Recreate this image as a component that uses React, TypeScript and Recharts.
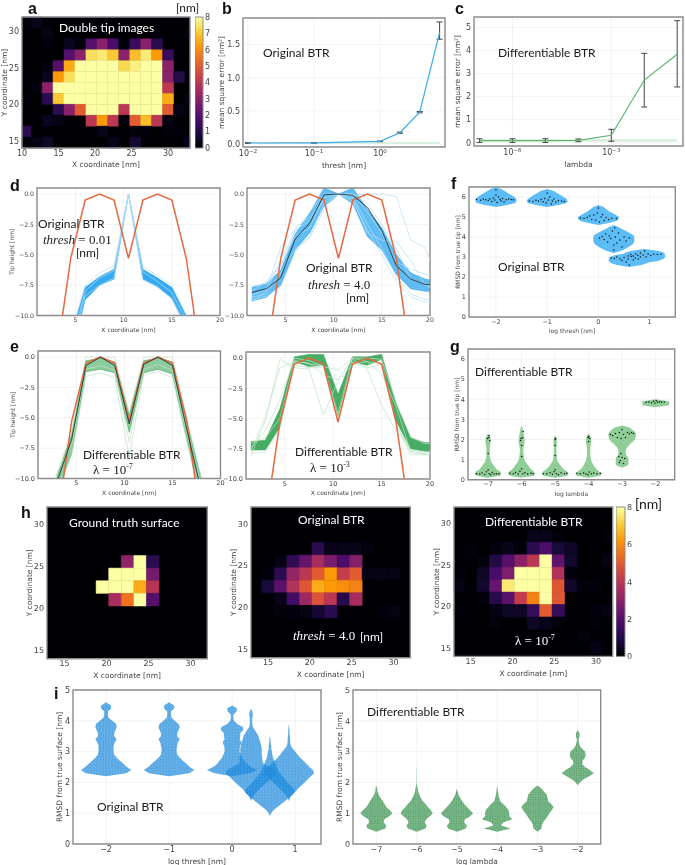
import type { ReactNode } from "react";
import {
  Area,
  CartesianGrid,
  ComposedChart,
  ErrorBar,
  Line,
  ReferenceArea,
  Scatter,
  XAxis,
  YAxis,
} from "recharts";

const INK = "#444";
const FRAME = "#8c8c8c";
const GRID = "#eeeeee";
const ORANGE = "#e5683f";
const BLUE = "#2ba5ef";
const BLUE_THIN = "#b4def7";
const GREEN = "#3fa85c";
const GREEN_THIN = "#bfe3c6";
const SANS = "'DejaVu Sans', sans-serif";
const NOTE = "Lato, 'Open Sans', sans-serif";
const SERIF = "'Liberation Serif', serif";

const INFERNO = ["#000004", "#1b0c41", "#4a0c6b", "#781c6d", "#a52c60", "#cf4446", "#ed6925", "#fb9a06", "#f7d03c", "#fcffa4"];

/* a: double tip image, rows from the top */
const aGrid = [
  [0.1, 0.3, 0, 0, 0, 0, 0, 0, 0, 0, 0, 0, 0, 0, 0, 0],
  [0, 0, 0.2, 0, 0, 0, 0, 0, 0, 0, 0, 0, 0.1, 0, 0, 0.2],
  [0, 0, 0.1, 0, 0.4, 0.1, 2, 3, 1.8, 0.1, 1.5, 3, 1.2, 0, 0, 0],
  [0, 0, 0, 0, 2, 3, 7.4, 7.6, 7, 3, 6.8, 7.6, 6.2, 1.5, 0, 0],
  [0, 0, 0.1, 2, 6.5, 8, 8, 8, 8, 7.3, 7.7, 8, 8, 3, 0, 0],
  [0, 0, 0.4, 6.2, 7.4, 8, 8, 8, 8, 8, 8, 8, 8, 3, 1, 0],
  [0, 0.1, 3, 8, 8, 8, 8, 8, 8, 8, 8, 8, 8, 4, 0, 0],
  [0.1, 0, 1.2, 7, 8, 8, 8, 8, 8, 8, 8, 8, 8, 6.5, 0, 0.2],
  [0, 0, 0, 1.2, 3, 5, 8, 8, 8, 4, 8, 8, 8, 5, 0.2, 0],
  [0, 0, 0.4, 0.2, 0, 0, 4, 6.2, 4, 0.1, 5, 6.8, 4, 0.2, 0, 0],
  [1.2, 0, 0, 0, 0, 0, 0, 0.3, 0, 0, 0.1, 0.1, 0, 0.1, 0.1, 0],
  [0.1, 0.2, 0.5, 0, 0, 0, 0, 0, 0.3, 0, 0.7, 0, 0, 0, 0, 0.4],
];

/* h: surfaces, rows from the top */
const hTruth = [
  [0, 0, 0, 0, 0, 0, 0, 0, 0, 0, 0, 0, 0],
  [0, 0, 0, 0, 0, 0, 0, 0, 0, 0, 0, 0, 0],
  [0, 0, 0, 0, 0, 0, 0, 0, 0, 0, 0, 0, 0],
  [0, 0, 0, 0, 0, 0, 0, 0, 0, 0, 0, 0, 0],
  [0, 0, 0, 0, 0, 0, 3.1, 8, 1.2, 0, 0, 0, 0],
  [0, 0, 0, 0, 0, 8, 8, 8, 2.6, 0, 0, 0, 0],
  [0, 0, 0, 0, 8, 8, 8, 6.5, 3.9, 0, 0, 0, 0],
  [0, 0, 0, 0, 0, 3.6, 5.5, 8, 2, 0, 0, 0, 0],
  [0, 0, 0, 0, 0, 0, 0, 0, 0, 0, 0, 0, 0],
  [0, 0, 0, 0, 0, 0, 0, 0, 0, 0, 0, 0, 0],
  [0, 0, 0, 0, 0, 0, 0, 0, 0, 0, 0, 0, 0],
  [0, 0, 0, 0, 0, 0, 0, 0, 0, 0, 0, 0, 0],
  [0, 0, 0, 0, 0, 0, 0, 0, 0, 0, 0, 0, 0],
];
const hOriginal = [
  [0, 0, 0, 0, 0, 0, 0, 0, 0, 0, 0, 0, 0],
  [0, 0, 0, 0, 0, 0, 0, 0, 0, 0, 0, 0, 0],
  [0, 0, 0, 0, 0, 0, 0, 0, 0, 0, 0, 0, 0],
  [0, 0, 0, 0, 0, 1.2, 0.3, 0.3, 0.3, 0.1, 0, 0, 0],
  [0, 0, 0.2, 1.3, 2.3, 3.6, 2.7, 1.8, 2.9, 0, 0, 0, 0],
  [0, 0.1, 1.2, 3.2, 4, 5, 6.2, 4.2, 5, 0.2, 0.2, 0.2, 0],
  [0, 0.8, 2.1, 3.8, 4.9, 6.5, 6.2, 6, 5.8, 0, 0, 0, 0],
  [0, 0, 0.3, 1.6, 3.4, 4.8, 4, 1.1, 3.6, 0, 0, 0, 0],
  [0, 0, 0.1, 0.1, 0.2, 0.7, 1.2, 0, 0, 0, 0.1, 0.2, 0],
  [0, 0, 0, 0, 0, 0, 0, 0, 0, 0, 0, 0, 0],
  [0, 0, 0, 0, 0, 0, 0, 0, 0, 0, 0, 0, 0],
  [0, 0, 0, 0, 0, 0, 0, 0, 0, 0, 0, 0, 0],
  [0, 0, 0, 0, 0, 0, 0, 0, 0, 0, 0, 0, 0],
];
const hDiff = [
  [0, 0, 0, 0, 0, 0, 0, 0, 0, 0, 0, 0, 0],
  [0, 0, 0, 0, 0, 0, 0, 0, 0, 0, 0, 0, 0],
  [0, 0, 0, 0, 0, 0, 0.3, 0.3, 0.1, 0, 0, 0, 0.1],
  [0, 0.1, 0, 0.1, 0.3, 0.1, 1.2, 1.9, 0.8, 0.5, 0, 0, 0],
  [0, 0, 0.1, 1, 2, 3, 4, 8, 2.2, 0.6, 0, 0, 0.2],
  [0.1, 0, 0.5, 1.7, 2.8, 8, 8, 8, 3.8, 0.1, 0, 0, 0],
  [0.2, 0, 0.6, 2.3, 7.6, 8, 8, 8, 4.9, 0.6, 0.1, 0.1, 0],
  [0, 0, 0.1, 1.1, 2.1, 4.2, 5.8, 8, 4.9, 0, 0, 0, 0],
  [0.1, 0, 0, 0.2, 0.5, 0.5, 1.4, 5, 1.4, 0, 0, 0.1, 0.2],
  [0, 0, 0, 0.1, 0, 0, 0.5, 0.3, 0.1, 0, 0, 0.1, 0],
  [0, 0, 0, 0, 0, 0, 0, 0, 0, 0, 0.1, 0, 0],
  [0, 0, 0, 0, 0, 0, 0, 0, 0, 0, 0, 0.2, 0],
  [0, 0, 0, 0, 0, 0, 0, 0, 0, 0, 0, 0, 0],
];

/* b, c: error curves */
const bThresh = [0.01, 0.1, 1, 2, 4, 8];
const bError = [0.015, 0.017, 0.04, 0.17, 0.48, 1.68];
const bLower = [0.01, 0.012, 0.035, 0.16, 0.47, 1.58];
const bUpper = [0.02, 0.022, 0.045, 0.18, 0.49, 1.84];
const cLambda = [1e-7, 1e-6, 1e-5, 1e-4, 1e-3, 1e-2, 1e-1];
const cError = [0.09, 0.09, 0.09, 0.1, 0.32, 2.72, 3.84];
const cLower = [0.01, 0.01, 0.01, 0.04, 0.06, 1.55, 2.42];
const cUpper = [0.17, 0.17, 0.17, 0.16, 0.58, 3.88, 5.3];
const cBaseline = [0.1, 0.1, 0.1, 0.1, 0.1, 0.1, 0.1];

/* d, e: tip profiles */
const tipX = [1.5, 3, 4.5, 6, 7.5, 9, 10.5, 12, 13.5, 15, 16.5, 18, 19.5, 21];
const trueTip = [-18, -13.6, -5.3, -0.5, 0, -0.5, -5.3, -0.5, 0, -0.5, -5.3, -13.6, -18, -18];

const d1Low = [-22, -18, -13.5, -8.7, -7.5, -7, 0, -7, -7.6, -8.6, -11, -14.5, -20, -22];
const d1High = [-20, -16, -11.8, -7.7, -6.8, -6.2, 0, -6.2, -6.9, -7.7, -10, -13, -18, -20];
const d1Thin = [
  [-21, -17, -13, -8.4, -7.5, -6.9, 0, -7.1, -7.7, -8.6, -10.8, -14.2, -19, -21],
  [-20, -16, -11.5, -7.5, -6.5, -5.9, 0, -6, -6.7, -7.5, -10, -13, -18, -20],
  [-21, -17, -12.5, -8, -6.9, -6.3, 0, -6.4, -7.2, -8.1, -10.4, -13.6, -19, -21],
];

const d2Low = [-8.8, -8.5, -7.5, -4.6, -3.2, -1, 0, -0.8, -3.5, -4.6, -6.6, -7.8, -8, -8];
const d2High = [-7.7, -7.4, -6.3, -3.3, -1.6, 0.5, 0, 0.5, -1.3, -2.8, -5, -6.5, -7, -7.2];
const d2Mean = [-8.1, -7.8, -6.9, -3.7, -2.4, -0.05, 0, -0.1, -1.1, -3, -5.9, -7, -7.45, -7.5];
const d2Thin = [
  [-8.9, -8, -5.5, -3, -1.5, 0, 0, 0, -0.8, -2.5, -4.5, -7, -7.5, -7.7],
  [-8.5, -8.2, -6.5, -4.5, -3.6, -1.3, 0, -0.2, -2.5, -4.5, -6.8, -8.2, -8.7, -8.8],
  [-8, -7.2, -5.8, -3.5, -2.8, -0.3, 0, -0.1, 0, 0, -0.2, -3.8, -4.4, -7.5],
  [-8.3, -7.9, -4.4, -2.8, -1.9, -0.6, 0, -0.4, -3.2, -3.8, -3.9, -5.5, -7.5, -8],
  [-8.7, -8.4, -7.6, -4.8, -3.5, -0.8, 0, -0.6, -3, -5, -7.2, -8.5, -8.9, -8.9],
  [-7.6, -7.3, -6, -3, -2.2, 0, 0, 0, -1.5, -3.2, -5.6, -6.2, -6.6, -6.8],
];

const e1Low = [-16, -11, -8, -1.2, -1, -1.3, -6.2, -1.3, -1, -1.4, -6.8, -12, -17, -18];
const e1High = [-14, -9.8, -6.4, -0.3, -0.1, -0.4, -4.8, -0.3, -0.1, -0.4, -5.3, -10, -14, -16];
const e1Mean = [-15, -10.2, -6.8, -0.7, 0, -0.7, -5.5, -0.6, 0, -0.7, -6, -11, -16, -17];
const e1Thin = [
  [-13, -9.6, -6, 0, 0, 0, -4.5, 0, 0, 0, -5, -10, -13, -15],
  [-16, -11, -8, -1.6, -1.3, -1.7, -8.2, -1.5, -1.2, -1.7, -7, -11.5, -16, -17],
  [-14, -9.5, -7.2, -1, -0.7, -1.1, -7, -1, -0.6, -1.1, -6.4, -10.6, -15, -16],
];

const e2Low = [-7.6, -7.6, -5.7, -0.3, -0.7, -0.6, -4.8, -0.3, -0.6, -0.1, -5.2, -7.5, -7.7, -7.7];
const e2High = [-6.9, -6.8, -4.2, 0.1, 0.3, 0.3, -3, 0.1, 0.1, 0.3, -3.8, -6.6, -7, -7];
const e2Thin = [
  [-8.1, -5.2, -0.1, -0.8, -0.9, -4.7, -1.9, -0.5, -0.3, -0.6, -5.5, -8, -8, -7.9],
  [-7.7, -4.9, -0.8, -0.3, -0.4, -1.4, -1.8, -0.1, -0.9, -3.9, -6, -7.6, -7.8, -7.6],
  [-7.4, -6, -3.5, 0, -0.2, -0.7, -1, 0, -0.3, -1.3, -4, -7.7, -7.9, -7.5],
  [-7, -6.6, -5, -0.2, -0.5, -0.6, -4.6, 0, 0, -0.1, -3.6, -6.5, -7.1, -6.9],
  [-7.9, -7.8, -5.8, -0.6, -0.8, -0.8, -5, -0.4, -0.8, -0.5, -5.3, -7.8, -8, -7.8],
];

/* f, g, i: violins; half widths per 0.1 step of RMSD, from the start level up */
const fCenters = [-2, -1, 0, 0.3, 0.6, 0.9];
const fStarts = [5.6, 5.6, 4.7, 3.3, 2.6, 2.8];
const fWidths = [
  [0.22, 0.38, 0.4, 0.4, 0.36, 0.3, 0.23, 0.17, 0.1],
  [0.22, 0.38, 0.4, 0.38, 0.32, 0.26, 0.19, 0.13],
  [0.2, 0.35, 0.4, 0.4, 0.34, 0.27, 0.2, 0.15, 0.1],
  [0.14, 0.22, 0.29, 0.35, 0.39, 0.4, 0.4, 0.4, 0.38, 0.31, 0.24, 0.16, 0.09],
  [0.24, 0.36, 0.4, 0.4, 0.38, 0.27],
  [0.26, 0.37, 0.4, 0.4, 0.39, 0.28],
];
const fDots = [
  [-2.38, 5.87], [-2.3, 5.84], [-2.25, 5.9], [-2.2, 5.86], [-2.15, 5.83], [-2.12, 5.9], [-2.08, 5.78], [-2.05, 5.95], [-2.02, 5.85], [-2, 6.1], [-1.98, 5.72], [-1.95, 6], [-1.92, 5.88], [-1.9, 5.8], [-1.87, 5.93], [-1.84, 5.75], [-1.8, 5.86], [-1.75, 5.9], [-1.7, 5.88], [-1.66, 5.86], [-2, 6.35],
  [-1.35, 5.8], [-1.28, 5.78], [-1.22, 5.84], [-1.17, 5.8], [-1.12, 5.88], [-1.08, 5.76], [-1.05, 5.92], [-1.02, 5.7], [-1, 6.2], [-0.98, 5.85], [-0.95, 6], [-0.92, 5.65], [-0.9, 5.8], [-0.87, 5.9], [-0.83, 5.75], [-0.78, 5.83], [-0.72, 5.8], [-0.67, 5.78],
  [-0.35, 4.95], [-0.28, 4.92], [-0.22, 4.98], [-0.17, 5.05], [-0.13, 4.88], [-0.09, 5.1], [-0.05, 4.85], [-0.02, 5.2], [0, 5.45], [0.02, 4.75], [0.05, 5], [0.08, 5.12], [0.11, 4.82], [0.15, 4.98], [0.2, 4.88], [0.26, 4.94], [0.35, 4.92],
  [0.02, 3.95], [0.07, 4.02], [0.11, 3.88], [0.14, 4.15], [0.18, 3.75], [0.21, 4.05], [0.24, 3.92], [0.27, 4.3], [0.3, 3.6], [0.33, 4], [0.36, 3.7], [0.39, 4.2], [0.42, 3.85], [0.46, 3.5], [0.5, 4], [0.54, 3.8], [0.6, 3.95], [0.3, 3.35], [0.32, 4.45],
  [0.25, 2.95], [0.31, 2.93], [0.36, 3], [0.42, 2.9], [0.46, 2.82], [0.5, 2.98], [0.54, 2.75], [0.58, 2.9], [0.6, 2.6], [0.64, 3.02], [0.68, 2.85], [0.72, 2.95], [0.78, 2.9], [0.82, 3],
  [0.58, 3.05], [0.63, 3.12], [0.68, 3.05], [0.73, 3.15], [0.77, 3.08], [0.82, 3.2], [0.87, 3.1], [0.9, 3.3], [0.93, 3], [0.97, 3.15], [1.02, 3.08], [1.08, 3.14], [1.15, 3.12], [1.22, 3.14],
];

const gCenters = [-7, -6, -5, -4, -3, -2];
const gStarts = [0.2, 0.2, 0.2, 0.2, 0.7, 3.7];
const gWidths = [
  [0.36, 0.4, 0.37, 0.27, 0.22, 0.17, 0.13, 0.09, 0.07, 0.06, 0.05, 0.05, 0.05, 0.05, 0.05, 0.06, 0.07, 0.08, 0.08, 0.07, 0.04],
  [0.36, 0.4, 0.38, 0.3, 0.24, 0.2, 0.15, 0.11, 0.08, 0.07, 0.06, 0.06, 0.05, 0.05, 0.06, 0.07, 0.08, 0.09, 0.09, 0.08, 0.07, 0.06, 0.05, 0.04, 0.02],
  [0.36, 0.4, 0.37, 0.28, 0.22, 0.16, 0.12, 0.08, 0.06, 0.05, 0.05, 0.04, 0.04, 0.04, 0.04, 0.05, 0.05, 0.05, 0.05, 0.04],
  [0.36, 0.4, 0.33, 0.25, 0.2, 0.15, 0.12, 0.09, 0.07, 0.06, 0.05, 0.05, 0.05, 0.05, 0.05, 0.06, 0.07, 0.08, 0.08, 0.07, 0.04],
  [0.17, 0.19, 0.19, 0.19, 0.18, 0.13, 0.11, 0.1, 0.12, 0.15, 0.2, 0.26, 0.33, 0.38, 0.4, 0.41, 0.41, 0.37, 0.3, 0.22],
  [0.4, 0.4, 0.4],
];
const gDots = [
  [-7.35, 0.3], [-7.25, 0.28], [-7.18, 0.33], [-7.1, 0.26], [-7.05, 0.4], [-7, 0.5], [-6.97, 0.3], [-6.92, 0.24], [-6.88, 0.36], [-6.82, 0.28], [-6.75, 0.3], [-6.68, 0.3], [-7.02, 2.05], [-6.98, 2.1], [-6.95, 1.95], [-7, 1.3], [-6.97, 2.2],
  [-6.35, 0.32], [-6.25, 0.3], [-6.18, 0.36], [-6.1, 0.28], [-6.05, 0.42], [-6, 0.55], [-5.96, 0.3], [-5.9, 0.35], [-5.82, 0.28], [-5.72, 0.32], [-5.65, 0.3], [-6.02, 2.05], [-5.97, 2.08], [-6, 1.7], [-6, 1.15], [-5.95, 2.4], [-6.03, 1.95],
  [-5.35, 0.3], [-5.25, 0.3], [-5.15, 0.34], [-5.08, 0.27], [-5.03, 0.4], [-5, 0.5], [-4.96, 0.3], [-4.9, 0.24], [-4.82, 0.35], [-4.72, 0.3], [-4.65, 0.32], [-5, 2], [-5, 1.7], [-5, 1.2], [-4.98, 2.05],
  [-4.35, 0.32], [-4.25, 0.3], [-4.15, 0.33], [-4.08, 0.28], [-4.02, 0.25], [-3.98, 0.38], [-3.92, 0.3], [-3.85, 0.33], [-3.75, 0.3], [-3.65, 0.32], [-4.02, 2.1], [-3.97, 2.05], [-4, 1.9], [-4, 2.15],
  [-3.35, 2.25], [-3.28, 2.2], [-3.2, 2.3], [-3.14, 2.1], [-3.08, 2.35], [-3.03, 2.05], [-3, 2.5], [-2.96, 2.25], [-2.9, 2.1], [-2.84, 2.35], [-2.78, 2.28], [-2.72, 2.35], [-2.66, 2.3], [-3.1, 1.15], [-3.05, 0.95], [-3, 1.1], [-2.96, 0.8], [-2.92, 1.05], [-3.04, 1.3], [-3.08, 0.85],
  [-2.28, 3.85], [-2.2, 3.87], [-2.12, 3.83], [-2.06, 3.9], [-2.02, 3.8], [-1.98, 3.93], [-1.94, 3.85], [-1.88, 3.88], [-1.82, 3.85], [-1.74, 3.87],
];

const iLeftCenters = [-2, -1, 0, 0.3, 0.6, 0.9];
const iLeftStarts = [2.3, 2.3, 2.3, 1.5, 1, 1.5];
const iLeftWidths = [
  [0.32, 0.4, 0.33, 0.28, 0.22, 0.17, 0.13, 0.12, 0.12, 0.12, 0.14, 0.17, 0.13, 0.13, 0.15, 0.17, 0.16, 0.1, 0.04, 0.03, 0.03, 0.08, 0.08],
  [0.32, 0.4, 0.33, 0.28, 0.22, 0.17, 0.13, 0.12, 0.12, 0.13, 0.14, 0.17, 0.13, 0.13, 0.15, 0.17, 0.15, 0.09, 0.04, 0.03, 0.03, 0.08, 0.08],
  [0.28, 0.4, 0.3, 0.24, 0.2, 0.16, 0.14, 0.12, 0.12, 0.13, 0.15, 0.12, 0.13, 0.13, 0.18, 0.17, 0.08, 0.03, 0.02, 0.02, 0.07, 0.08],
  [0.02, 0.05, 0.1, 0.14, 0.2, 0.25, 0.3, 0.35, 0.4, 0.38, 0.3, 0.2, 0.18, 0.18, 0.17, 0.17, 0.17, 0.16, 0.15, 0.13, 0.12, 0.09, 0.06, 0.03, 0.02, 0.02, 0.02, 0.03, 0.02],
  [0.02, 0.06, 0.12, 0.18, 0.24, 0.3, 0.36, 0.4, 0.38, 0.33, 0.28, 0.24, 0.2, 0.16, 0.13, 0.11, 0.09, 0.07, 0.05, 0.04, 0.03, 0.02, 0.02, 0.01, 0.01],
  [0.02, 0.05, 0.1, 0.15, 0.2, 0.25, 0.3, 0.35, 0.4, 0.38, 0.33, 0.28, 0.23, 0.18, 0.14, 0.1, 0.06, 0.03, 0.02, 0.02, 0.015, 0.01, 0.01, 0.005],
];

const iRightCenters = [-7, -6, -5, -4, -3, -2];
const iRightStarts = [0.5, 0.5, 0.5, 0.5, 0.5, 2];
const iRightWidths = [
  [0.22, 0.25, 0.18, 0.2, 0.32, 0.4, 0.33, 0.25, 0.2, 0.16, 0.1, 0.06, 0.03, 0.02],
  [0.22, 0.25, 0.2, 0.24, 0.33, 0.4, 0.35, 0.28, 0.22, 0.15, 0.1, 0.07, 0.04, 0.03, 0.01, 0.005, 0.004, 0.004, 0.004, 0.004],
  [0.22, 0.25, 0.18, 0.2, 0.33, 0.4, 0.32, 0.25, 0.18, 0.13, 0.08, 0.04, 0.02],
  [0.33, 0.1, 0.15, 0.38, 0.3, 0.3, 0.28, 0.22, 0.15, 0.07, 0.05, 0.03, 0.02, 0.01],
  [0.1, 0.11, 0.14, 0.2, 0.25, 0.3, 0.36, 0.4, 0.34, 0.26, 0.25, 0.23, 0.17, 0.1],
  [0.05, 0.15, 0.28, 0.4, 0.3, 0.18, 0.11, 0.12, 0.18, 0.2, 0.18, 0.1, 0.05, 0.03, 0.02, 0.05, 0.04],
];

const infernoColor = (v: number) => {
  const p = (Math.min(v, 8) / 8) * (INFERNO.length - 1);
  const i = Math.min(Math.floor(p), INFERNO.length - 2);
  const mix = (a: string, b: string, f: number) => {
    const ca = [1, 3, 5].map((k) => parseInt(a.slice(k, k + 2), 16));
    const cb = [1, 3, 5].map((k) => parseInt(b.slice(k, k + 2), 16));
    return `rgb(${ca.map((c, n) => Math.round(c + (cb[n] - c) * f)).join(",")})`;
  };
  return mix(INFERNO[i], INFERNO[i + 1], p - i);
};

const minus = (v: number | string) => String(v).replace("-", "\u2212");

function tipTable(low: number[], high: number[], mean: number[] | null, thin: number[][]) {
  return tipX.map((x, i) => {
    const row: Record<string, unknown> = { x, truth: trueTip[i], band: [low[i], high[i]], mean: mean ? mean[i] : null };
    thin.forEach((t, k) => (row[`t${k}`] = t[i]));
    return row;
  });
}

// outside its own levels a violin has no width, so one area can run over the whole table
function violinTable(centers: number[], starts: number[], widths: number[][], top: number) {
  const rows = [];
  for (let tenth = 0; tenth <= top; tenth++) {
    const row: Record<string, unknown> = { y: tenth / 10 };
    centers.forEach((c, v) => {
      const w = widths[v][tenth - Math.round(starts[v] * 10)] ?? 0;
      row[`v${v}`] = [c - w, c + w];
    });
    rows.push(row);
  }
  return rows;
}

function box(l: number, t: number, w: number, h: number) {
  return {
    width: w + 46,
    height: h + 32,
    margin: { top: 6, right: 10, bottom: 0, left: 0 },
    style: { position: "absolute" as const, left: l - 36, top: t - 6 },
  };
}

interface AxesOpts {
  xDomain: number[];
  yDomain: number[];
  xTicks: number[];
  yTicks: number[];
  xLabel: string;
  yLabel?: string;
  size: number;
  yDist?: number;
  xDist?: number;
  grid?: boolean;
  log?: boolean;
  yKey?: string;
  reversed?: boolean;
  yFormat?: (v: number) => string;
}

const PowerTick = ({ x, y, payload }: any) => (
  <text x={x} y={y + 7} textAnchor="middle" fontSize={8} fontFamily={SANS} fill={INK}>
    10
    <tspan fontSize={5.5} dy={-3}>
      {minus(Math.round(Math.log10(payload.value)))}
    </tspan>
  </text>
);

function axes(o: AxesOpts) {
  const tick = { fontSize: o.size, fontFamily: SANS, fill: INK };
  const labelStyle = { fontSize: Math.max(o.size - 0.5, 6), fontFamily: SANS, fill: INK };
  return (
    <>
      {o.grid !== false && <CartesianGrid stroke={GRID} strokeWidth={0.7} />}
      <XAxis
        type="number"
        dataKey="x"
        scale={o.log ? "log" : "auto"}
        domain={o.xDomain}
        ticks={o.xTicks}
        interval={0}
        allowDataOverflow
        height={26}
        tickLine={false}
        axisLine={false}
        tickSize={2}
        tickMargin={0}
        tick={o.log ? PowerTick : tick}
        tickFormatter={minus}
        label={{ value: o.xLabel, position: "insideTop", offset: o.xDist ?? 12, ...labelStyle }}
      />
      <YAxis
        type="number"
        dataKey={o.yKey}
        domain={o.yDomain}
        ticks={o.yTicks}
        reversed={o.reversed}
        interval={0}
        allowDataOverflow
        width={36}
        tickLine={false}
        axisLine={false}
        tickSize={2}
        tickMargin={1}
        tick={tick}
        tickFormatter={o.yFormat ?? minus}
        label={
          o.yLabel
            ? {
                value: o.yLabel,
                angle: -90,
                position: "insideLeft",
                offset: 36 - (o.yDist ?? 18),
                ...labelStyle,
                style: { textAnchor: "middle" },
              }
            : undefined
        }
      />
    </>
  );
}

const frame = (x: number[], y: number[]) => (
  <ReferenceArea x1={x[0]} x2={x[1]} y1={y[0]} y2={y[1]} fill="none" stroke={FRAME} strokeWidth={1.4} ifOverflow="visible" />
);

function cells(grid: number[][], xEdge: number, yTop: number, xDomain: number[], yDomain: number[]) {
  const out: ReactNode[] = [];
  grid.forEach((row, r) =>
    row.forEach((v, c) => {
      if (v <= 0) return;
      const x1 = Math.max(xEdge + c * 1.5, xDomain[0]);
      const x2 = Math.min(xEdge + (c + 1) * 1.5, xDomain[1]);
      const y2 = Math.min(yTop - r * 1.5, yDomain[1]);
      const y1 = Math.max(yTop - (r + 1) * 1.5, yDomain[0]);
      if (x1 >= x2 || y1 >= y2) return;
      const color = infernoColor(v);
      // the hairline stroke closes the seams between neighbouring cells
      out.push(<ReferenceArea key={`${r}-${c}`} x1={x1} x2={x2} y1={y1} y2={y2} fill={color} fillOpacity={1} stroke={color} strokeWidth={0.5} ifOverflow="visible" />);
    })
  );
  return out;
}

function Heat(props: {
  l: number; t: number; w: number; h: number; grid: number[][]; xEdge: number; yTop: number;
  xDomain: number[]; yDomain: number[]; xTicks: number[]; yTicks: number[]; xDist: number; yDist: number; size: number;
}) {
  const { l, t, w, h, grid, xEdge, yTop, xDomain, yDomain, xTicks, yTicks, xDist, yDist, size } = props;
  return (
    <ComposedChart {...box(l, t, w, h)} data={[]}>
      {axes({ xDomain, yDomain, xTicks, yTicks, xLabel: "X coordinate [nm]", yLabel: "Y coordinate [nm]", size, xDist, yDist, grid: false })}
      <ReferenceArea x1={xDomain[0]} x2={xDomain[1]} y1={yDomain[0]} y2={yDomain[1]} fill="#000004" fillOpacity={1} stroke="none" ifOverflow="visible" />
      {cells(grid, xEdge, yTop, xDomain, yDomain)}
      {frame(xDomain, yDomain)}
    </ComposedChart>
  );
}

function ColorBar({ l, t, w, h, ticks, id }: { l: number; t: number; w: number; h: number; ticks: number[]; id: string }) {
  return (
    <ComposedChart
      width={w + 18}
      height={h + 12}
      margin={{ top: 6, right: 0, bottom: 6, left: 0 }}
      style={{ position: "absolute", left: l, top: t - 6 }}
      data={[]}
    >
      <defs>
        <linearGradient id={id} x1="0" y1="1" x2="0" y2="0">
          {INFERNO.map((c, i) => (
            <stop key={c} offset={i / (INFERNO.length - 1)} stopColor={c} />
          ))}
        </linearGradient>
      </defs>
      <XAxis type="number" dataKey="x" domain={[0, 1]} allowDataOverflow hide />
      <YAxis
        type="number"
        orientation="right"
        domain={[0, 8]}
        ticks={ticks}
        interval={0}
        allowDataOverflow
        width={18}
        tickLine={false}
        axisLine={false}
        tickSize={1}
        tickMargin={1}
        tick={{ fontSize: 8, fontFamily: SANS, fill: INK }}
      />
      <ReferenceArea x1={0} x2={1} y1={0} y2={8} fill={`url(#${id})`} fillOpacity={1} stroke={FRAME} strokeWidth={1} ifOverflow="visible" />
    </ComposedChart>
  );
}

function Tips(props: {
  l: number; t: number; w: number; h: number; low: number[]; high: number[]; mean?: number[]; thin: number[][];
  band: string; thinColor: string; size: number; yLabel?: string; xDist?: number; bandOpacity?: number;
}) {
  const { l, t, w, h, low, high, mean, thin, band, thinColor, size, yLabel, bandOpacity } = props;
  const xDomain = [1, 20];
  const yDomain = [-10, 0.5];
  return (
    <ComposedChart {...box(l, t, w, h)} data={tipTable(low, high, mean ?? null, thin)}>
      {axes({
        xDomain,
        yDomain,
        xTicks: [5, 10, 15, 20],
        yTicks: [-10, -7.5, -5, -2.5, 0],
        xLabel: "X coordinate [nm]",
        yLabel,
        size,
        yDist: 25,
        xDist: 12,
        yFormat: (v) => minus(v.toFixed(1)),
      })}
      {thin.map((_, k) => (
        <Line key={k} dataKey={`t${k}`} stroke={thinColor} strokeWidth={0.7} dot={false} activeDot={false} isAnimationActive={false} />
      ))}
      <Area dataKey="band" type="linear" stroke={band} strokeWidth={0.6} fill={band} fillOpacity={bandOpacity ?? 0.95} dot={false} activeDot={false} isAnimationActive={false} />
      <Line dataKey="truth" stroke={ORANGE} strokeWidth={1.5} dot={false} activeDot={false} isAnimationActive={false} />
      {mean && <Line dataKey="mean" stroke="#23343a" strokeWidth={0.9} dot={false} activeDot={false} isAnimationActive={false} />}
      {frame(xDomain, yDomain)}
    </ComposedChart>
  );
}

function Violins(props: {
  l: number; t: number; w: number; h: number; centers: number[]; starts: number[]; widths: number[][]; top: number;
  xDomain: number[]; yDomain: number[]; xTicks: number[]; yTicks: number[]; xLabel: string; yLabel: string;
  fill: string; opacity?: number; dots?: number[][]; size: number; yDist: number; xDist: number;
  defs?: ReactNode;
}) {
  const { l, t, w, h, centers, starts, widths, top, xDomain, yDomain, xTicks, yTicks, xLabel, yLabel, fill, opacity, dots, size, yDist, xDist, defs } = props;
  return (
    <ComposedChart {...box(l, t, w, h)} layout="vertical" data={violinTable(centers, starts, widths, top)}>
      {defs}
      {axes({ xDomain, yDomain, xTicks, yTicks, xLabel, yLabel, size, yDist, xDist, yKey: "y", reversed: true })}
      {centers.map((_, v) => (
        <Area key={v} dataKey={`v${v}`} type="linear" stroke="none" fill={fill} fillOpacity={opacity ?? 1} dot={false} activeDot={false} isAnimationActive={false} />
      ))}
      {dots && (
        <Scatter
          data={dots.map(([x, y]) => ({ x, y }))}
          dataKey="y"
          isAnimationActive={false}
          shape={(p: any) => <circle cx={p.cx} cy={p.cy} r={0.75} fill="#111" />}
        />
      )}
      {frame(xDomain, yDomain)}
    </ComposedChart>
  );
}

function Note({ x, y, size = 12, color = "#1a1a1a", children, font = NOTE, weight }: { x: number; y: number; size?: number; color?: string; children: ReactNode; font?: string; weight?: number }) {
  return (
    <div
      style={{
        position: "absolute",
        left: x,
        top: y,
        transform: "translateY(-50%)",
        fontFamily: font,
        fontSize: size,
        fontWeight: weight,
        color,
        whiteSpace: "nowrap",
        lineHeight: 1,
      }}
    >
      {children}
    </div>
  );
}

const Letter = ({ x, y, c }: { x: number; y: number; c: string }) => (
  <Note x={x} y={y} size={16} weight={700} font="'Liberation Sans', sans-serif" color="#111">
    {c}
  </Note>
);

const Thresh = ({ v }: { v: string }) => (
  <>
    <i>thresh</i> = {v}
  </>
);
const Lam = ({ p }: { p: string }) => (
  <>
    λ = 10<sup style={{ fontSize: "0.62em", verticalAlign: "0.5em", lineHeight: 0 }}>{p}</sup>
  </>
);

const H_X = [15, 20, 25, 30];
const H_Y = [15, 20, 25, 30];

export default function App() {
  const bRows = bThresh.map((x, i) => ({ x, y: bError[i], pale: 0.015, err: [bError[i] - bLower[i], bUpper[i] - bError[i]] }));
  const cRows = cLambda.map((x, i) => ({ x, y: cError[i], pale: cBaseline[i], err: [cError[i] - cLower[i], cUpper[i] - cError[i]] }));
  const bX = [0.0084, 9.66];
  const bY = [-0.045, 1.9];
  const cX = [6.8e-8, 1.5e-1];
  const cY = [-0.145, 5.46];

  return (
    <div style={{ position: "absolute", left: 0, top: 0, width: 685, height: 865, background: "#fff", overflow: "hidden", filter: "blur(0.4px)" }}>
      <Heat l={22} t={17} w={168} h={131} grid={aGrid} xEdge={9.75} yTop={32} xDomain={[10, 33]} yDomain={[14, 32]} xTicks={[10, 15, 20, 25, 30]} yTicks={H_Y} xDist={14} yDist={18} size={8} />
      <ColorBar l={195} t={17} w={8} h={131} ticks={[0, 1, 2, 3, 4, 5, 6, 7, 8]} id="barA" />

      <ComposedChart {...box(243, 18, 202, 129)} data={bRows}>
        {axes({ xDomain: bX, yDomain: bY, xTicks: [0.01, 0.1, 1], yTicks: [0, 0.5, 1, 1.5], xLabel: "thresh [nm]", yLabel: "mean square error [nm²]", size: 8, log: true, yDist: 22, xDist: 16, yFormat: (v) => v.toFixed(1) })}
        <Line dataKey="pale" stroke="#d9efe0" strokeWidth={2} dot={false} activeDot={false} isAnimationActive={false} />
        <Line dataKey="y" stroke="#3aa9ee" strokeWidth={1.2} dot={false} activeDot={false} isAnimationActive={false}>
          <ErrorBar dataKey="err" direction="y" width={3} stroke="#444" strokeWidth={1} isAnimationActive={false} />
        </Line>
        {frame(bX, bY)}
      </ComposedChart>

      <ComposedChart {...box(474, 17, 209, 129)} data={cRows}>
        {axes({ xDomain: cX, yDomain: cY, xTicks: [1e-6, 1e-3], yTicks: [0, 1, 2, 3, 4, 5], xLabel: "lambda", yLabel: "mean square error [nm²]", size: 8, log: true, yDist: 17, xDist: 16 })}
        <Line dataKey="pale" stroke="#d5ecd8" strokeWidth={2.2} dot={false} activeDot={false} isAnimationActive={false} />
        <Line dataKey="y" stroke="#5cb56e" strokeWidth={1.2} dot={false} activeDot={false} isAnimationActive={false}>
          <ErrorBar dataKey="err" direction="y" width={3} stroke="#444" strokeWidth={1} isAnimationActive={false} />
        </Line>
        {frame(cX, cY)}
      </ComposedChart>

      <Tips l={37} t={187.5} w={183} h={127.5} low={d1Low} high={d1High} thin={d1Thin} band={BLUE} thinColor={BLUE_THIN} size={6.2} yLabel="Tip height [nm]" />
      <Tips l={247} t={187.5} w={183} h={127.5} low={d2Low} high={d2High} mean={d2Mean} thin={d2Thin} band={BLUE} thinColor={BLUE_THIN} size={6.2} bandOpacity={0.75} />
      <Tips l={37.5} t={351} w={182.5} h={127.5} low={e1Low} high={e1High} mean={e1Mean} thin={e1Thin} band={GREEN} thinColor={GREEN_THIN} size={6.5} yLabel="Tip height [nm]" bandOpacity={0.6} />
      <Tips l={246} t={351.5} w={184} h={127} low={e2Low} high={e2High} thin={e2Thin} band={GREEN} thinColor={GREEN_THIN} size={6.5} />

      <Violins l={468.7} t={186.7} w={206.3} h={130} centers={fCenters} starts={fStarts} widths={fWidths} top={65} xDomain={[-2.526, 1.5]} yDomain={[0, 6.5]} xTicks={[-2, -1, 0, 1]} yTicks={[0, 1, 2, 3, 4, 5, 6]} xLabel="log thresh [nm]" yLabel="RMSD from true tip [nm]" fill="#5cbcf6" dots={fDots} size={6.5} yDist={11} xDist={12} />
      <Violins l={468.3} t={349.3} w={206.7} h={130.7} centers={gCenters} starts={gStarts} widths={gWidths} top={65} xDomain={[-7.6, -1.43]} yDomain={[0, 6.5]} xTicks={[-7, -6, -5, -4, -3, -2]} yTicks={[0, 1, 2, 3, 4, 5, 6]} xLabel="log lambda" yLabel="RMSD from true tip [nm]" fill="#8fce96" dots={gDots} size={6.5} yDist={11} xDist={12} />

      <Heat l={46.7} t={507} w={160.3} h={151.7} grid={hTruth} xEdge={12.75} yTop={32.25} xDomain={[12.9, 32]} yDomain={[14, 32]} xTicks={H_X} yTicks={H_Y} xDist={14} yDist={18} size={8} />
      <Heat l={250.7} t={507} w={159.3} h={150.7} grid={hOriginal} xEdge={12.75} yTop={32.25} xDomain={[12.97, 32]} yDomain={[14, 32]} xTicks={H_X} yTicks={H_Y} xDist={14} yDist={18} size={8} />
      <Heat l={454} t={507.3} w={158.7} h={149.4} grid={hDiff} xEdge={12.75} yTop={32.25} xDomain={[13, 32]} yDomain={[14, 32]} xTicks={H_X} yTicks={H_Y} xDist={14} yDist={18} size={8} />
      <ColorBar l={616} t={507.3} w={9} h={149.4} ticks={[0, 2, 4, 6, 8]} id="barH" />

      <Violins
        l={72.7} t={690} w={248} h={154}
        centers={iLeftCenters} starts={iLeftStarts} widths={iLeftWidths} top={50}
        xDomain={[-2.524, 1.41]} yDomain={[0, 5]} xTicks={[-2, -1, 0, 1]} yTicks={[0, 1, 2, 3, 4, 5]}
        xLabel="log thresh [nm]" yLabel="RMSD from true surface [nm]"
        fill="url(#speckBlue)" size={8} yDist={14} xDist={15}
        defs={
          <defs>
            <pattern id="speckBlue" width="3" height="3" patternUnits="userSpaceOnUse">
              <rect width="3" height="3" fill="#1f90e6" fillOpacity="0.7" />
              <circle cx="0.8" cy="0.8" r="0.35" fill="#123" fillOpacity="0.65" />
              <circle cx="2.2" cy="2.1" r="0.3" fill="#123" fillOpacity="0.5" />
            </pattern>
          </defs>
        }
      />
      <Violins
        l={353.3} t={690} w={247.7} h={154}
        centers={iRightCenters} starts={iRightStarts} widths={iRightWidths} top={50}
        xDomain={[-7.58, -1.43]} yDomain={[0, 5]} xTicks={[-7, -6, -5, -4, -3, -2]} yTicks={[0, 1, 2, 3, 4, 5]}
        xLabel="log lambda" yLabel="RMSD from true surface [nm]"
        fill="url(#speckGreen)" size={8} yDist={14} xDist={15}
        defs={
          <defs>
            <pattern id="speckGreen" width="2.4" height="2.4" patternUnits="userSpaceOnUse">
              <rect width="2.4" height="2.4" fill="#7cc08c" />
              <circle cx="0.6" cy="0.6" r="0.42" fill="#0d2a18" fillOpacity="0.8" />
              <circle cx="1.8" cy="1.7" r="0.36" fill="#0d2a18" fillOpacity="0.7" />
            </pattern>
          </defs>
        }
      />

      <Letter x={28} y={9} c="a" />
      <Letter x={222} y={9} c="b" />
      <Letter x={455} y={9} c="c" />
      <Letter x={10} y={186} c="d" />
      <Letter x={10} y={347} c="e" />
      <Letter x={451} y={184} c="f" />
      <Letter x={450} y={347} c="g" />
      <Letter x={21} y={513} c="h" />
      <Letter x={54} y={694} c="i" />

      <Note x={176} y={8} size={12}>[nm]</Note>
      <Note x={59} y={28} color="#fff">Double tip images</Note>
      <Note x={263} y={53}>Original BTR</Note>
      <Note x={498} y={53}>Differentiable BTR</Note>
      <Note x={38} y={224}>Original BTR</Note>
      <Note x={43} y={239} font={SERIF} size={13}><Thresh v="0.01" /></Note>
      <Note x={76} y={253}>[nm]</Note>
      <Note x={306} y={268}>Original BTR</Note>
      <Note x={308} y={284} font={SERIF} size={13}><Thresh v="4.0" /></Note>
      <Note x={346} y={298}>[nm]</Note>
      <Note x={83} y={455}>Differentiable BTR</Note>
      <Note x={93} y={469} font={SERIF} size={13}><Lam p="-7" /></Note>
      <Note x={295} y={452}>Differentiable BTR</Note>
      <Note x={310} y={467} font={SERIF} size={13}><Lam p="-3" /></Note>
      <Note x={498} y={267}>Original BTR</Note>
      <Note x={475} y={372}>Differentiable BTR</Note>
      <Note x={635} y={504} size={14}>[nm]</Note>
      <Note x={69} y={523} color="#fff">Ground truth surface</Note>
      <Note x={298} y={520} color="#fff">Original BTR</Note>
      <Note x={293} y={635} font={SERIF} size={13} color="#fff"><Thresh v="4.0" /></Note>
      <Note x={360} y={637} color="#fff">[nm]</Note>
      <Note x={485} y={522} color="#fff">Differentiable BTR</Note>
      <Note x={515} y={640} font={SERIF} size={13} color="#fff"><Lam p="-7" /></Note>
      <Note x={97} y={807}>Original BTR</Note>
      <Note x={367} y={712}>Differentiable BTR</Note>
    </div>
  );
}
